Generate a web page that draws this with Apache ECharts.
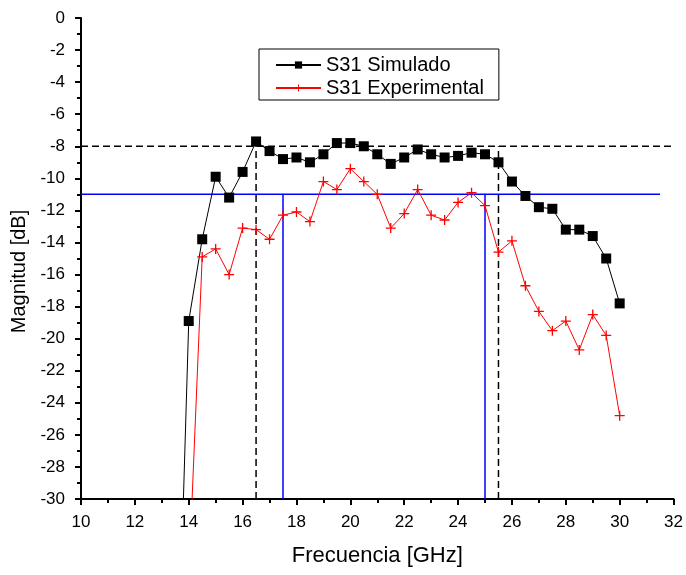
<!DOCTYPE html>
<html>
<head>
<meta charset="utf-8">
<script src="https://cdn.jsdelivr.net/npm/echarts@6/dist/echarts.min.js"></script>
<style>
  html, body { margin: 0; padding: 0; background: #fff; }
  #chart { width: 686px; height: 575px; }
</style>
</head>
<body>
<div id="chart"></div>
<script>
// Frequency samples [GHz]
const freqSim = [13.5, 14, 14.5, 15, 15.5, 16, 16.5, 17, 17.5, 18, 18.5, 19, 19.5, 20, 20.5, 21, 21.5, 22, 22.5, 23, 23.5, 24, 24.5, 25, 25.5, 26, 26.5, 27, 27.5, 28, 28.5, 29, 29.5, 30];
const s31Simulado = [-47, -18.9, -13.8, -9.9, -11.2, -9.6, -7.7, -8.3, -8.8, -8.7, -9.0, -8.5, -7.8, -7.8, -8.0, -8.5, -9.1, -8.7, -8.2, -8.5, -8.7, -8.6, -8.4, -8.5, -9.0, -10.2, -11.1, -11.8, -11.9, -13.2, -13.2, -13.6, -15.0, -17.8];

const freqExp = [14, 14.5, 15, 15.5, 16, 16.5, 17, 17.5, 18, 18.5, 19, 19.5, 20, 20.5, 21, 21.5, 22, 22.5, 23, 23.5, 24, 24.5, 25, 25.5, 26, 26.5, 27, 27.5, 28, 28.5, 29, 29.5, 30];
const s31Experimental = [-35, -14.9, -14.4, -16.0, -13.1, -13.2, -13.8, -12.3, -12.1, -12.7, -10.2, -10.7, -9.4, -10.2, -11.0, -13.1, -12.2, -10.7, -12.3, -12.6, -11.5, -10.9, -11.7, -14.6, -13.9, -16.7, -18.3, -19.5, -18.9, -20.7, -18.5, -19.8, -24.8];

// Band markers: -8 dB level with its edges (dashed), -11 dB level with its edges (blue)
const simLevel = -8;
const simEdges = [16.5, 25.5];
const simLevelEnd = 32;
const expLevel = -11;
const expEdges = [17.5, 25];
const expLevelEnd = 31.5;

const xMin = 10, xMax = 32, yMin = -30, yMax = 0;

const FONT = '"Liberation Sans", Arial, sans-serif';
const plusPath = 'path://M8.7,0 H11.3 V8.7 H20 V11.3 H11.3 V20 H8.7 V11.3 H0 V8.7 H8.7 Z';

const pairs = (xs, ys) => xs.map((x, i) => [x, ys[i]]);

function refSeries(data, color, type) {
  return {
    type: 'line',
    data: data,
    symbol: 'none',
    silent: true,
    z: 1,
    lineStyle: { color: color, width: 1.5, type: type },
    emphasis: { disabled: true }
  };
}

const refs = [
  refSeries([[xMin, simLevel], [simLevelEnd, simLevel]], '#000', [7, 4]),
  refSeries([[simEdges[0], yMin], [simEdges[0], simLevel]], '#000', [7, 4]),
  refSeries([[simEdges[1], yMin], [simEdges[1], simLevel]], '#000', [7, 4]),
  refSeries([[xMin, expLevel], [expLevelEnd, expLevel]], '#0000ff', 'solid'),
  refSeries([[expEdges[0], yMin], [expEdges[0], expLevel]], '#0000ff', 'solid'),
  refSeries([[expEdges[1], yMin], [expEdges[1], expLevel]], '#0000ff', 'solid')
];

const chart = echarts.init(document.getElementById('chart'));
chart.setOption({
  animation: false,
  backgroundColor: '#fff',
  textStyle: { fontFamily: FONT, color: '#000' },
  grid: { left: 81, right: 12, top: 18, bottom: 76, containLabel: false },
  legend: {
    data: ['S31 Simulado', 'S31 Experimental'],
    orient: 'vertical',
    left: 259,
    top: 49,
    align: 'left',
    borderColor: '#000',
    borderWidth: 1,
    borderRadius: 0,
    padding: [6, 15, 2, 16],
    itemGap: 3,
    itemWidth: 45,
    itemHeight: 9,
    textStyle: { fontSize: 20, color: '#000', fontFamily: FONT }
  },
  xAxis: {
    type: 'value',
    min: xMin, max: xMax, interval: 2,
    name: 'Frecuencia [GHz]',
    nameLocation: 'middle',
    nameGap: 46,
    nameTextStyle: { fontSize: 22, color: '#000', fontFamily: FONT },
    axisLine: { onZero: false, lineStyle: { color: '#000', width: 2 } },
    axisTick: { show: true, inside: false, length: 6, lineStyle: { color: '#000', width: 2 } },
    minorTick: { show: true, splitNumber: 2, length: 4, lineStyle: { color: '#000', width: 2 } },
    axisLabel: { fontSize: 17, color: '#000', margin: 15, fontFamily: FONT },
    splitLine: { show: false }
  },
  yAxis: {
    type: 'value',
    min: yMin, max: yMax, interval: 2,
    name: 'Magnitud [dB]',
    nameLocation: 'middle',
    nameGap: 52,
    nameTextStyle: { fontSize: 20, color: '#000', fontFamily: FONT, padding: [0, 26, 0, 0] },
    axisLine: { onZero: false, lineStyle: { color: '#000', width: 2 } },
    axisTick: { show: true, inside: false, length: 6, lineStyle: { color: '#000', width: 2 } },
    minorTick: { show: true, splitNumber: 2, length: 4, lineStyle: { color: '#000', width: 2 } },
    axisLabel: { fontSize: 17, color: '#000', margin: 16, fontFamily: FONT },
    splitLine: { show: false }
  },
  series: refs.concat([
    {
      name: 'S31 Simulado',
      type: 'line',
      data: pairs(freqSim, s31Simulado),
      symbol: 'rect',
      symbolSize: 10,
      clip: true,
      z: 3,
      lineStyle: { color: '#000', width: 1 },
      itemStyle: { color: '#000' }
    },
    {
      name: 'S31 Experimental',
      type: 'line',
      data: pairs(freqExp, s31Experimental),
      symbol: plusPath,
      symbolSize: 10,
      clip: true,
      z: 3,
      lineStyle: { color: '#ff0000', width: 1 },
      itemStyle: { color: '#ff0000' }
    }
  ])
});
</script>
</body>
</html>
